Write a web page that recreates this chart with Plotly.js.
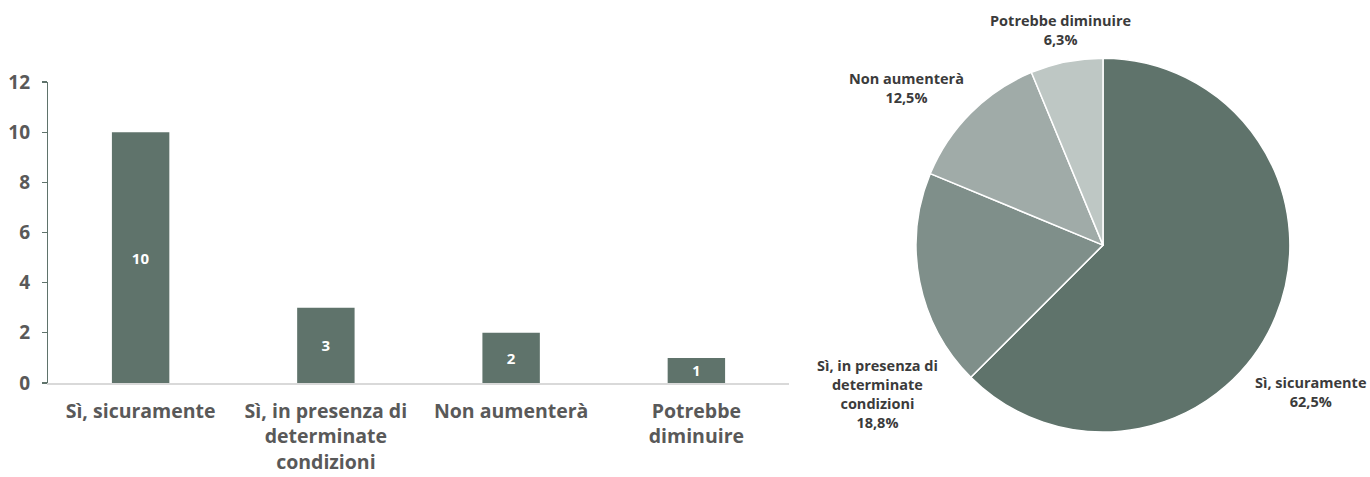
<!DOCTYPE html>
<html>
<head>
<meta charset="utf-8">
<script src="https://cdn.plot.ly/plotly-3.0.1.min.js"></script>
<style>html,body{margin:0;padding:0;background:#fff;}#chart{width:1370px;height:477px;}</style>
</head>
<body>
<div id="chart"></div>
<script>
// Data
const categories = ["Sì, sicuramente", "Sì, in presenza di determinate condizioni", "Non aumenterà", "Potrebbe diminuire"];
const barTickLabels = ["Sì, sicuramente", "Sì, in presenza di<br>determinate<br>condizioni", "Non aumenterà", "Potrebbe<br>diminuire"];
const pieLabels = ["Sì, sicuramente", "Sì, in presenza di<br>determinate<br>condizioni", "Non aumenterà", "Potrebbe diminuire"];
const counts = [10, 3, 2, 1];
const yTicks = [0, 2, 4, 6, 8, 10, 12];
const pieColors = ["#5f736b", "#7f8f8a", "#a0aba8", "#bec7c4"];

const FONT = "'Open Sans', sans-serif";
const barColor = "#5f736b";
const total = counts.reduce((a, b) => a + b, 0);
const pctText = counts.map(v => (v / total * 100).toFixed(1).replace(".", ",") + "%");

const barTrace = {
  type: "bar",
  x: categories,
  y: counts,
  text: counts.map(String),
  textposition: "inside",
  insidetextanchor: "middle",
  textangle: 0,
  textfont: {family: FONT, size: 15, color: "#ffffff", weight: 700},
  marker: {color: barColor},
  width: 0.31,
  hoverinfo: "x+y",
  xaxis: "x", yaxis: "y",
  showlegend: false
};

const pieTrace = {
  type: "pie",
  labels: categories,
  values: counts,
  sort: false,
  direction: "clockwise",
  rotation: 0,
  marker: {colors: pieColors, line: {color: "#ffffff", width: 1.5}},
  textinfo: "none",
  hoverinfo: "label+percent",
  domain: {x: [0.6686, 0.9416], y: [0.0943, 0.878]},
  showlegend: false
};

// label positions for the pie (paper px converted)
const pieLabelPos = [
  {x: 1310, y: 392},
  {x: 878, y: 394},
  {x: 906, y: 88},
  {x: 1060, y: 30}
];
const annotations = pieLabelPos.map((p, i) => ({
  xref: "paper", yref: "paper",
  x: p.x / 1370, y: 1 - p.y / 477,
  xanchor: "center", yanchor: "middle",
  text: "<b>" + pieLabels[i] + "<br>" + pctText[i] + "</b>",
  showarrow: false,
  align: "center",
  font: {family: FONT, size: 14.5, color: "#3b3b3b"}
}));

const layout = {
  width: 1370, height: 477,
  margin: {l: 0, r: 0, t: 0, b: 0},
  paper_bgcolor: "#ffffff",
  plot_bgcolor: "#ffffff",
  font: {family: FONT},
  xaxis: {
    domain: [48 / 1370, 789 / 1370],
    tickvals: categories,
    ticktext: barTickLabels,
    showline: true, linecolor: "#d9d9d9", linewidth: 1.5,
    ticks: "", showgrid: false, zeroline: false,
    ticklabelstandoff: 10,
    tickfont: {family: FONT, size: 19.5, color: "#595959", weight: 700},
    fixedrange: true
  },
  yaxis: {
    domain: [(477 - 383) / 477, (477 - 82) / 477],
    range: [0, 12],
    tickvals: yTicks,
    showline: true, linecolor: "#5f736b", linewidth: 1.2,
    ticks: "outside", ticklen: 5, tickcolor: "#5f736b", tickwidth: 1.2,
    ticklabelstandoff: 8,
    showgrid: false, zeroline: false,
    tickfont: {family: FONT, size: 19, color: "#595959", weight: 700},
    fixedrange: true
  },
  annotations: annotations
};

Plotly.newPlot("chart", [barTrace, pieTrace], layout, {displayModeBar: false, staticPlot: true});
</script>
</body>
</html>
